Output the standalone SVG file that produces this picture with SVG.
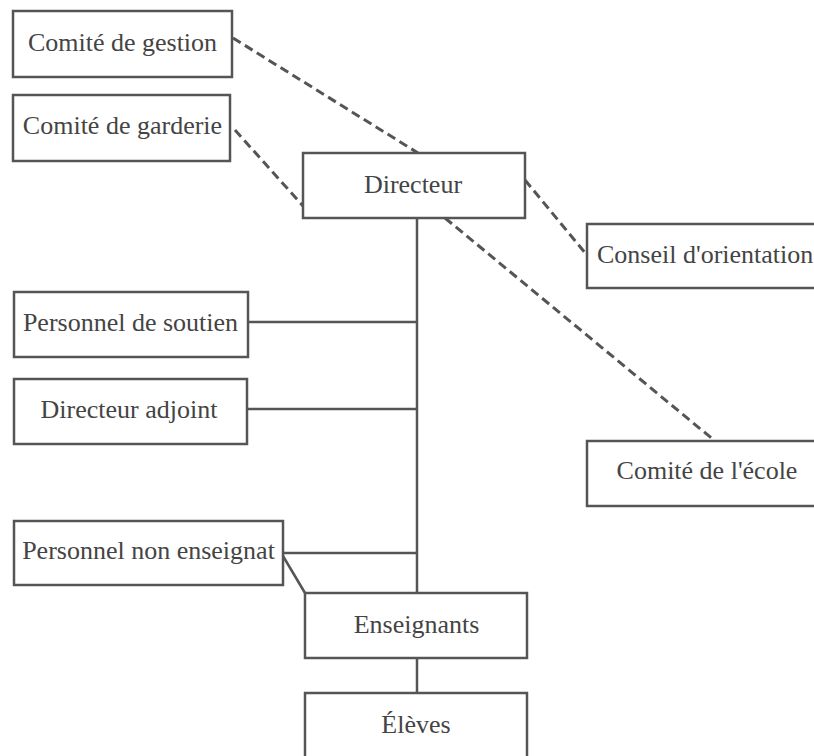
<svg xmlns="http://www.w3.org/2000/svg" width="814" height="756" viewBox="0 0 814 756">
<style>
.box{fill:#fff;stroke:#555;stroke-width:2.5}
.t{font-family:"Liberation Serif","Times New Roman",serif;font-size:26px;fill:#444;text-anchor:middle}
.s{fill:none;stroke:#555;stroke-width:2.5}
.d{fill:none;stroke:#555;stroke-width:3;stroke-dasharray:9 5}
</style>
<rect width="814" height="756" fill="#fff"/>
<g id="connectors">
<line class="d" x1="233" y1="38" x2="418" y2="153"/>
<line class="d" x1="235" y1="130" x2="303" y2="206"/>
<line class="d" x1="525" y1="180" x2="586" y2="254"/>
<line class="d" x1="445" y1="218" x2="715" y2="441"/>
<line class="s" x1="417" y1="218" x2="417" y2="593"/>
<line class="s" x1="248" y1="322" x2="417" y2="322"/>
<line class="s" x1="247" y1="409" x2="417" y2="409"/>
<line class="s" x1="283" y1="553" x2="417" y2="553"/>
<line class="s" x1="283" y1="556" x2="305" y2="593"/>
<line class="s" x1="417" y1="658" x2="417" y2="693"/>
</g>
<g id="comite-gestion"><rect class="box" x="13" y="11" width="219" height="66"/><text class="t" x="122.5" y="51">Comité de gestion</text></g>
<g id="comite-garderie"><rect class="box" x="13" y="95" width="217" height="66"/><text class="t" x="122.5" y="134">Comité de garderie</text></g>
<g id="directeur"><rect class="box" x="303" y="153" width="222" height="65"/><text class="t" x="413" y="193">Directeur</text></g>
<g id="conseil"><rect class="box" x="587" y="224" width="240" height="64"/><text class="t" x="597" y="263" style="text-anchor:start">Conseil d'orientation</text></g>
<g id="personnel-soutien"><rect class="box" x="14" y="292" width="234" height="65"/><text class="t" x="130.5" y="331">Personnel de soutien</text></g>
<g id="directeur-adjoint"><rect class="box" x="14" y="379" width="233" height="65"/><text class="t" x="129" y="418">Directeur adjoint</text></g>
<g id="comite-ecole"><rect class="box" x="587" y="441" width="240" height="65"/><text class="t" x="707" y="479">Comité de l'école</text></g>
<g id="personnel-non-enseignant"><rect class="box" x="14" y="521" width="269" height="64"/><text class="t" x="148.5" y="559">Personnel non enseignat</text></g>
<g id="enseignants"><rect class="box" x="305" y="593" width="222" height="65"/><text class="t" x="416.5" y="633">Enseignants</text></g>
<g id="eleves"><rect class="box" x="305" y="693" width="222" height="70"/><text class="t" x="416" y="733">Élèves</text></g>
</svg>
